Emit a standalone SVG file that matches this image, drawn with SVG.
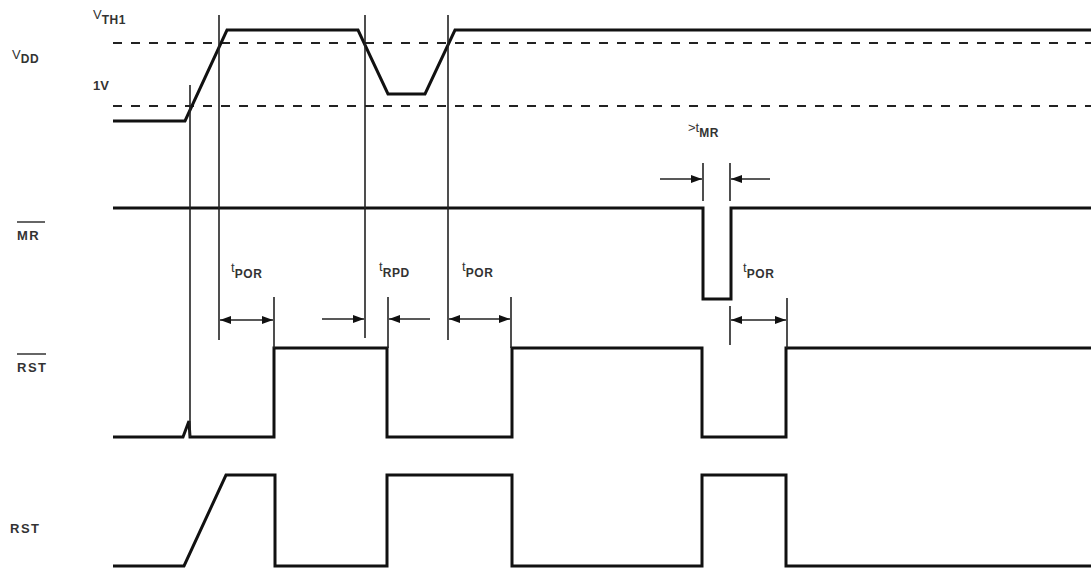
<svg xmlns="http://www.w3.org/2000/svg" width="1091" height="568" viewBox="0 0 1091 568">
<style>
.sig{fill:none;stroke:#111;stroke-width:3;stroke-linejoin:miter}
.ref{fill:none;stroke:#222;stroke-width:1.6}
.dash{fill:none;stroke:#222;stroke-width:2;stroke-dasharray:9 9}
.arr{fill:none;stroke:#222;stroke-width:1.5}
text{font-family:"Liberation Sans",Arial,sans-serif;fill:#333}
.lbl{font-size:13px;font-weight:bold;letter-spacing:1.5px}
.tl{font-size:13px}
.sub{font-size:12px;font-weight:bold;letter-spacing:0.6px}
</style>
<defs>
<marker id="ah" markerUnits="userSpaceOnUse" markerWidth="12" markerHeight="10" refX="11" refY="4" orient="auto-start-reverse">
<path d="M0,0 L11,4 L0,8 Z" fill="#111"/>
</marker>
</defs>
<rect width="1091" height="568" fill="#fff"/>

<g id="vdd">
<line class="dash" x1="113" y1="43" x2="1091" y2="43"/>
<line class="dash" x1="113" y1="106" x2="1091" y2="106"/>
<path class="sig" d="M113,121 L185,121 L227,30 L358,30 L388,94 L425,94 L455,30 L1091,30"/>
<text class="tl" x="12" y="59">V<tspan class="sub" dy="4">DD</tspan></text>
<text class="tl" x="93" y="19">V<tspan class="sub" dy="5">TH1</tspan></text>
<text class="tl" x="93" y="90" font-weight="bold">1V</text>
</g>

<g id="mr">
<path class="sig" d="M113,208 L703,208 L703,299 L731,299 L731,208 L1091,208"/>
<text class="lbl" x="17" y="240">MR</text>
<line x1="17" y1="222" x2="45" y2="222" stroke="#333" stroke-width="1.5"/>
</g>

<g id="rst_bar">
<path class="sig" d="M113,437 L183,437 L189,421 L190,437 L274,437 L274,348 L387,348 L387,437 L512,437 L512,348 L702,348 L702,437 L786,437 L786,348 L1091,348"/>
<text class="lbl" x="17" y="372">RST</text>
<line x1="17" y1="354" x2="46" y2="354" stroke="#333" stroke-width="1.5"/>
</g>

<g id="rst">
<path class="sig" d="M113,566 L184,566 L226,475 L275,475 L275,566 L387,566 L387,475 L512,475 L512,566 L702,566 L702,475 L786,475 L786,566 L1091,566"/>
<text class="lbl" x="10" y="533">RST</text>
</g>

<g id="connectors">
<line class="ref" x1="190" y1="85" x2="190" y2="437"/>
<line class="ref" x1="219" y1="15" x2="219" y2="340"/>
<line class="ref" x1="365" y1="15" x2="365" y2="338"/>
<line class="ref" x1="448" y1="15" x2="448" y2="340"/>
<line class="ref" x1="274" y1="297" x2="274" y2="348"/>
<line class="ref" x1="388" y1="297" x2="388" y2="348"/>
<line class="ref" x1="511" y1="297" x2="511" y2="348"/>
<line class="ref" x1="703" y1="163" x2="703" y2="201"/>
<line class="ref" x1="730" y1="163" x2="730" y2="201"/>
<line class="ref" x1="730" y1="306" x2="730" y2="345"/>
<line class="ref" x1="787" y1="298" x2="787" y2="348"/>

<line class="arr" x1="220" y1="320" x2="273" y2="320" marker-start="url(#ah)" marker-end="url(#ah)"/>
<line class="arr" x1="322" y1="319" x2="364" y2="319" marker-end="url(#ah)"/>
<line class="arr" x1="430" y1="319" x2="389" y2="319" marker-end="url(#ah)"/>
<line class="arr" x1="449" y1="319" x2="510" y2="319" marker-start="url(#ah)" marker-end="url(#ah)"/>
<line class="arr" x1="660" y1="179" x2="702" y2="179" marker-end="url(#ah)"/>
<line class="arr" x1="770" y1="179" x2="731" y2="179" marker-end="url(#ah)"/>
<line class="arr" x1="731" y1="320" x2="786" y2="320" marker-start="url(#ah)" marker-end="url(#ah)"/>

<text class="tl" x="231" y="272">t<tspan class="sub" dy="6">POR</tspan></text>
<text class="tl" x="379" y="271">t<tspan class="sub" dy="6">RPD</tspan></text>
<text class="tl" x="462" y="271">t<tspan class="sub" dy="6">POR</tspan></text>
<text class="tl" x="688" y="132">&gt;t<tspan class="sub" dy="5">MR</tspan></text>
<text class="tl" x="743" y="272">t<tspan class="sub" dy="6">POR</tspan></text>
</g>
</svg>
